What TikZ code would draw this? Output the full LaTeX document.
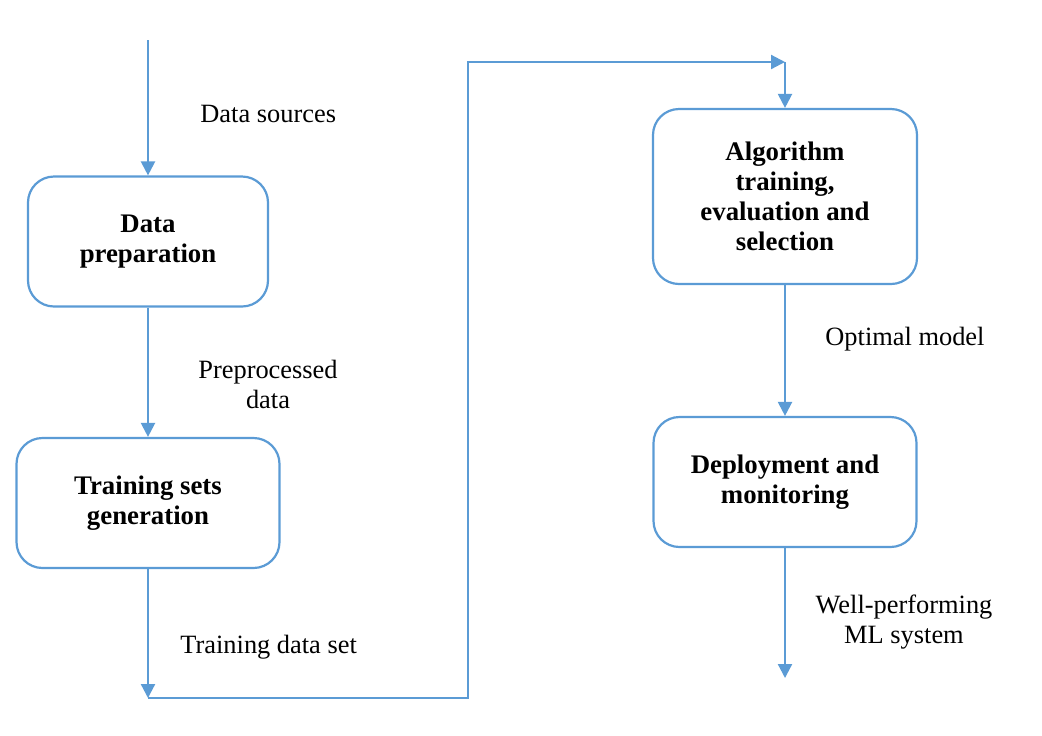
\documentclass[tikz,border=0pt]{standalone}
\usepackage{fontspec}
\setmainfont{Liberation Serif}
\usetikzlibrary{arrows.meta}
\definecolor{flowblue}{RGB}{91,155,213}
\begin{document}
\begin{tikzpicture}[x=0.5pt,y=-0.5pt,
  every node/.style={font=\fontsize{13.2}{15}\selectfont},
  procbox/.style={draw=flowblue,line width=1.1pt,rounded corners=13pt,
    align=center,font=\fontsize{13.4}{15}\selectfont\bfseries,inner sep=0pt},
  arr/.style={draw=flowblue,line width=1.1pt,-{Triangle[width=7pt,length=7pt]}},
  lbl/.style={align=center,inner sep=0pt}]
\useasboundingbox (0,0) rectangle (1042,735);
\node[procbox,minimum width=120pt,minimum height=65pt] (b1) at (148,241.5) {Data\\preparation};
\node[procbox,minimum width=131.5pt,minimum height=65pt] (b2) at (148,503) {Training sets\\generation};
\node[procbox,minimum width=132pt,minimum height=87.5pt] (b3) at (785,196.5) {Algorithm\\training,\\evaluation and\\selection};
\node[procbox,minimum width=131.5pt,minimum height=65pt] (b4) at (785,482) {Deployment and\\monitoring};
\coordinate (start) at (148,40);
\coordinate (c1) at (148,698);
\coordinate (bx) at (468,62);
\coordinate (c2) at (785,62);
\coordinate (fin) at (785,678);
\draw[arr] (start) -- (b1.north);
\draw[arr] (b1.south) -- (b2.north);
\draw[arr] (b2.south) -- (c1);
\draw[arr] (c1) -| (bx) -- (c2);
\draw[arr] (c2) -- (b3.north);
\draw[arr] (b3.south) -- (b4.north);
\draw[arr] (b4.south) -- (fin);
\node[lbl,anchor=west] (l1) at (200,114) {Data sources};
\node[lbl] (l2) at (268,384) {Preprocessed\\data};
\node[lbl,anchor=west] (l3) at (180,647) {Training data set};
\node[lbl,anchor=west] (l4) at (825,339) {Optimal model};
\node[lbl] (l5) at (904,622) {Well-performing\\ML system};
\end{tikzpicture}
\end{document}
